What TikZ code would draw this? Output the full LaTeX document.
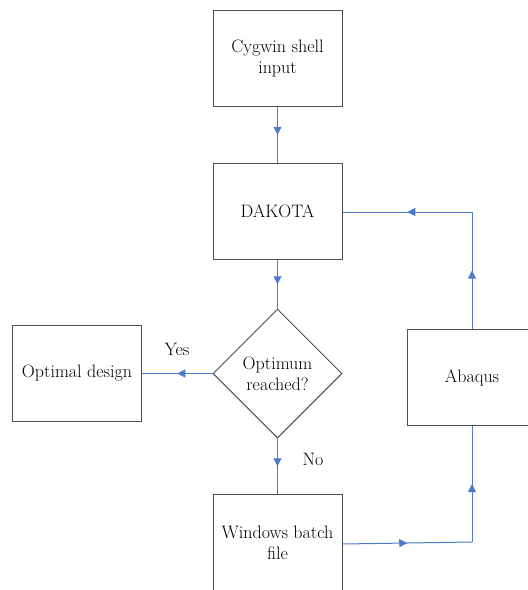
\documentclass[tikz,border=0pt]{standalone}
\usetikzlibrary{shapes.geometric,arrows.meta,decorations.markings}
\definecolor{flowblue}{RGB}{78,122,200}
\definecolor{boxgray}{RGB}{80,80,80}
\begin{document}
\begin{tikzpicture}[x=1pt,y=-1pt,
  font=\fontsize{18}{21}\selectfont,
  boxnode/.style={draw=boxgray,line width=1pt,rectangle,minimum width=129pt,minimum height=96pt,inner sep=0pt,align=center},
  decision/.style={draw=boxgray,line width=1pt,diamond,minimum width=129pt,minimum height=129pt,inner sep=0pt,align=center},
  flow/.style={draw=flowblue,line width=1pt},
  midarrow/.style={flow,postaction={decorate},decoration={markings,mark=at position 0.5 with {\arrow[flowblue]{Triangle[length=8pt,width=8pt]}}}},
  lbl/.style={inner sep=0pt}
]
\useasboundingbox (0,0) rectangle (528,590);
\clip (0,0) rectangle (528,590);
\fill[white] (0,0) rectangle (528,590);
\node[boxnode] (cyg) at (277.5,58) {Cygwin shell\\input};
\node[boxnode] (dak) at (277.5,211.5) {DAKOTA};
\node[decision] (opt) at (277.5,373.5) {Optimum\\reached?};
\node[boxnode] (des) at (77,373.5) {Optimal design};
\node[boxnode] (aba) at (472,377.5) {Abaqus};
\node[boxnode] (win) at (277.5,542.5) {Windows batch\\file};
\coordinate (c1) at (472,542);
\coordinate (c2) at (472,212);
\draw[midarrow] (cyg.south) -- (dak.north);
\draw[midarrow] (dak.south) -- (opt.north);
\draw[midarrow] (opt.west) -- (des.east);
\draw[midarrow] (opt.south) -- (win.north);
\draw[midarrow] (win.east |- 0,544) -- (c1);
\draw[midarrow] (c1) -- (aba.south);
\draw[midarrow] (aba.north) -- (c2);
\draw[midarrow] (c2) -- (dak.east |- c2);
\node[lbl] at (177,349) {Yes};
\node[lbl] at (313,459) {No};
\end{tikzpicture}
\end{document}
